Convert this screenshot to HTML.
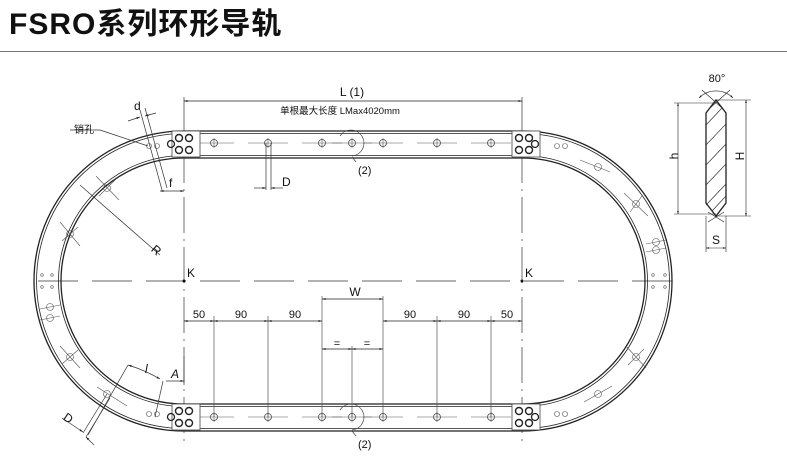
<!DOCTYPE html>
<html><head><meta charset="utf-8"><style>
html,body{margin:0;padding:0;background:#fff;width:787px;height:463px;overflow:hidden}
svg{display:block}
text{font-family:"Liberation Sans","Noto Sans CJK SC",sans-serif;fill:#111}
</style></head><body>
<svg width="787" height="463" viewBox="0 0 787 463" xmlns="http://www.w3.org/2000/svg">
<defs>
<marker id="a" viewBox="0 0 10 10" refX="10" refY="5" markerWidth="6" markerHeight="5" orient="auto-start-reverse"><path d="M0,2L10,5L0,8z" fill="#222"/></marker>
<g id="hole"><circle r="3.5" fill="none" stroke="#444" stroke-width="0.8"/><line x1="-20" x2="20" y1="0" y2="0" stroke="#555" stroke-width="0.6"/><line x1="0" x2="0" y1="-5" y2="5" stroke="#555" stroke-width="0.6"/></g>
<g id="blk"><rect x="0" y="0" width="28" height="26" fill="#fff" stroke="#444" stroke-width="0.8"/>
<circle cx="7" cy="7" r="3.5" fill="none" stroke="#222" stroke-width="1.4"/><circle cx="17" cy="7" r="3.5" fill="none" stroke="#222" stroke-width="1.4"/>
<circle cx="7" cy="19" r="3.5" fill="none" stroke="#222" stroke-width="1.4"/><circle cx="17" cy="19" r="3.5" fill="none" stroke="#222" stroke-width="1.4"/></g>
</defs>
<text x="9" y="34" font-size="30" font-weight="bold" letter-spacing="1" style="font-family:'Liberation Sans','Noto Sans CJK SC',sans-serif">FSRO系列环形导轨</text>
<line x1="0" y1="51.5" x2="787" y2="51.5" stroke="#777" stroke-width="1"/>

<g stroke="#333" stroke-width="0.7" stroke-dasharray="36,6,2,6" fill="none">
<line x1="184" y1="97" x2="184" y2="445"/><line x1="522" y1="97" x2="522" y2="445"/>
<line x1="38" y1="281" x2="680" y2="281" stroke-dasharray="40,14"/>
</g>
<circle cx="184" cy="281" r="1.5" fill="#111"/><circle cx="522" cy="281" r="1.5" fill="#111"/>
<text x="187" y="277" font-size="12">K</text><text x="525" y="277" font-size="12">K</text>

<g fill="none" stroke="#222">
<path d="M184,131 H522 A150,150 0 0 1 522,431 H184 A150,150 0 0 1 184,131Z" stroke-width="1.3"/>
<path d="M184,133.5 H522 A147.5,147.5 0 0 1 522,428.5 H184 A147.5,147.5 0 0 1 184,133.5Z" stroke-width="0.8"/>
<path d="M184,158 H522 A123,123 0 0 1 522,404 H184 A123,123 0 0 1 184,158Z" stroke-width="1.3"/>
<path d="M184,155.5 H522 A125.5,125.5 0 0 1 522,406.5 H184 A125.5,125.5 0 0 1 184,155.5Z" stroke-width="0.8"/>
</g>
<g>
<use href="#hole" x="214" y="143"/><use href="#hole" x="268" y="143"/><use href="#hole" x="322" y="143"/><use href="#hole" x="352" y="143"/><use href="#hole" x="383" y="143"/><use href="#hole" x="437" y="143"/><use href="#hole" x="491" y="143"/>
<use href="#hole" x="214" y="417"/><use href="#hole" x="268" y="417"/><use href="#hole" x="322" y="417"/><use href="#hole" x="352" y="417"/><use href="#hole" x="383" y="417"/><use href="#hole" x="437" y="417"/><use href="#hole" x="491" y="417"/>
</g>
<g fill="none" stroke="#555" stroke-width="0.6">
<circle cx="107" cy="188" r="3.5"/><line x1="96" y1="176" x2="119" y2="200"/><line x1="99" y1="196" x2="115" y2="180"/>
<circle cx="70" cy="234" r="3.5"/><line x1="60" y1="222" x2="80" y2="246"/><line x1="62" y1="241" x2="78" y2="227"/>
<circle cx="50" cy="307" r="3.5"/><line x1="40" y1="309" x2="60" y2="305"/>
<circle cx="50" cy="318" r="3.5"/><line x1="40" y1="320" x2="60" y2="316"/>
<circle cx="70" cy="357" r="3.5"/><line x1="60" y1="346" x2="80" y2="368"/><line x1="62" y1="364" x2="78" y2="350"/>
<circle cx="107" cy="394" r="3.5"/><line x1="97" y1="387" x2="127" y2="406"/>
<circle cx="149" cy="414" r="2.5"/><circle cx="157" cy="414" r="2.5"/>
<circle cx="149" cy="146" r="2.5"/><circle cx="157" cy="146" r="2.5"/>
<circle cx="557" cy="146" r="2.5"/><circle cx="565" cy="146" r="2.5"/>
<circle cx="598" cy="167" r="3.5"/><line x1="580" y1="160" x2="610" y2="172"/>
<circle cx="636" cy="204" r="3.5"/><line x1="624" y1="193" x2="648" y2="216"/><line x1="630" y1="212" x2="642" y2="196"/>
<circle cx="656" cy="242" r="3.5"/><line x1="646" y1="244" x2="666" y2="240"/>
<circle cx="656" cy="250" r="3.5"/><line x1="646" y1="252" x2="666" y2="248"/>
<circle cx="636" cy="357" r="3.5"/><line x1="626" y1="346" x2="646" y2="368"/><line x1="628" y1="365" x2="644" y2="349"/>
<circle cx="598" cy="394" r="3.5"/><line x1="584" y1="402" x2="612" y2="386"/>
<circle cx="557" cy="414" r="2.5"/><circle cx="565" cy="414" r="2.5"/>
<circle cx="42" cy="275" r="1.3"/><circle cx="52" cy="275" r="1.3"/><circle cx="42" cy="287" r="1.3"/><circle cx="52" cy="287" r="1.3"/>
<circle cx="653" cy="275" r="1.3"/><circle cx="665" cy="275" r="1.3"/><circle cx="653" cy="287" r="1.3"/><circle cx="665" cy="287" r="1.3"/>
</g>
<use href="#blk" x="172" y="131"/><use href="#blk" x="512" y="131"/>
<use href="#blk" x="172" y="404"/><use href="#blk" x="512" y="404"/>
<g fill="none" stroke="#222" stroke-width="1.3"><circle cx="171" cy="144" r="3.5"/><circle cx="535" cy="144" r="3.5"/><circle cx="171" cy="417" r="3.5"/><circle cx="535" cy="417" r="3.5"/></g>
<g fill="none" stroke="#444" stroke-width="0.7">
<path d="M340,136 A13,13 0 1 1 352,156"/><path d="M340,410 A13,13 0 1 1 352,430"/>
<line x1="352" y1="157" x2="356" y2="162"/><line x1="352" y1="431" x2="356" y2="436"/>
</g>
<text x="358" y="174" font-size="11">(2)</text><text x="358" y="448" font-size="11">(2)</text>

<line x1="184" y1="101" x2="522" y2="101" stroke="#222" stroke-width="0.7" marker-start="url(#a)" marker-end="url(#a)"/>
<text x="352" y="96" font-size="12" text-anchor="middle">L (1)</text>
<text x="340" y="114" font-size="9.5" text-anchor="middle" fill="#333">单根最大长度 LMax4020mm</text>

<g stroke="#333" stroke-width="0.7">
<line x1="266" y1="143" x2="266" y2="190"/><line x1="271" y1="143" x2="271" y2="190"/>
<line x1="254" y1="188" x2="266" y2="188" marker-end="url(#a)"/><line x1="283" y1="188" x2="271" y2="188" marker-end="url(#a)"/>
</g>
<text x="282" y="186" font-size="12">D</text>

<g stroke="#333" stroke-width="0.7" fill="none">
<line x1="140" y1="110" x2="162" y2="190"/><line x1="145" y1="108" x2="167" y2="188"/>
<line x1="128" y1="121" x2="140" y2="117" marker-end="url(#a)"/><line x1="156" y1="113" x2="145" y2="116" marker-end="url(#a)"/>
<line x1="160" y1="191" x2="184" y2="191" marker-start="url(#a)" marker-end="url(#a)"/>
<line x1="70" y1="130" x2="100" y2="130"/><line x1="100" y1="130" x2="148" y2="146"/>
<line x1="80" y1="185" x2="160" y2="255"/>
</g>
<text x="134" y="110" font-size="12">d</text>
<text x="169" y="187" font-size="12">f</text>
<text x="74" y="133" font-size="10">销孔</text>
<text x="152" y="254" font-size="12" transform="rotate(41 156 250)">R</text>

<g stroke="#333" stroke-width="0.7" fill="none">
<line x1="128" y1="365" x2="88" y2="435"/><line x1="107" y1="394" x2="83" y2="433"/><line x1="110" y1="398" x2="86" y2="437"/>
<line x1="163" y1="381" x2="155" y2="417"/>
<path d="M128,365 A150,150 0 0 1 160,379" marker-start="url(#a)" marker-end="url(#a)"/>
<line x1="166" y1="381" x2="184" y2="381" marker-end="url(#a)"/>
<line x1="184" y1="356" x2="184" y2="385"/>
<line x1="62" y1="418" x2="83" y2="432" marker-end="url(#a)"/><line x1="94" y1="445" x2="86" y2="437" marker-end="url(#a)"/>
</g>
<text x="145" y="373" font-size="12" font-style="italic">l</text>
<text x="171" y="378" font-size="12" font-style="italic">A</text>
<text x="64" y="422" font-size="12" transform="rotate(35 68 418)">D</text>

<g stroke="#555" stroke-width="0.7">
<line x1="214" y1="316" x2="214" y2="417"/><line x1="268" y1="316" x2="268" y2="417"/><line x1="322" y1="296" x2="322" y2="417"/><line x1="352" y1="346" x2="352" y2="417"/><line x1="383" y1="296" x2="383" y2="417"/><line x1="437" y1="316" x2="437" y2="417"/><line x1="491" y1="316" x2="491" y2="417"/>
</g>
<g stroke="#222" stroke-width="0.7">
<line x1="184" y1="321" x2="214" y2="321" marker-start="url(#a)" marker-end="url(#a)"/>
<line x1="214" y1="321" x2="268" y2="321" marker-start="url(#a)" marker-end="url(#a)"/>
<line x1="268" y1="321" x2="322" y2="321" marker-start="url(#a)" marker-end="url(#a)"/>
<line x1="383" y1="321" x2="437" y2="321" marker-start="url(#a)" marker-end="url(#a)"/>
<line x1="437" y1="321" x2="491" y2="321" marker-start="url(#a)" marker-end="url(#a)"/>
<line x1="491" y1="321" x2="522" y2="321" marker-start="url(#a)" marker-end="url(#a)"/>
<line x1="322" y1="299" x2="383" y2="299" marker-start="url(#a)" marker-end="url(#a)"/>
<line x1="322" y1="349" x2="352" y2="349" marker-start="url(#a)" marker-end="url(#a)"/>
<line x1="352" y1="349" x2="383" y2="349" marker-start="url(#a)" marker-end="url(#a)"/>
</g>
<g font-size="11" text-anchor="middle">
<text x="199" y="318">50</text><text x="241" y="318">90</text><text x="295" y="318">90</text>
<text x="410" y="318">90</text><text x="464" y="318">90</text><text x="507" y="318">50</text>
<text x="355" y="296" font-size="12">W</text><text x="337" y="347">=</text><text x="367" y="347">=</text>
</g>

<g stroke="#222" fill="none">
<path d="M716,100 L726,113 L726,203 L716,216 L706,203 L706,113Z" stroke-width="1.3"/>
<g stroke-width="0.6"><line x1="706" y1="125" x2="722" y2="108"/><line x1="706" y1="145" x2="726" y2="124"/><line x1="706" y1="165" x2="726" y2="144"/><line x1="706" y1="185" x2="726" y2="164"/><line x1="706" y1="205" x2="726" y2="184"/><line x1="712" y1="211" x2="726" y2="196"/></g>
<g stroke-width="0.6">
<line x1="674" y1="103" x2="716" y2="103"/><line x1="674" y1="214" x2="716" y2="214"/>
<line x1="678" y1="103" x2="678" y2="214" marker-start="url(#a)" marker-end="url(#a)"/>
<line x1="716" y1="100" x2="751" y2="100"/><line x1="716" y1="216" x2="751" y2="216"/>
<line x1="746" y1="100" x2="746" y2="216" marker-start="url(#a)" marker-end="url(#a)"/>
<line x1="706" y1="216" x2="706" y2="252"/><line x1="726" y1="216" x2="726" y2="252"/>
<line x1="706" y1="248" x2="726" y2="248" marker-start="url(#a)" marker-end="url(#a)"/>
<line x1="708" y1="212" x2="724" y2="222"/><line x1="724" y1="212" x2="708" y2="222"/>
<line x1="702" y1="90" x2="722" y2="108"/><line x1="730" y1="90" x2="710" y2="108"/>
<path d="M699,98 A24,24 0 0 1 733,98" marker-start="url(#a)" marker-end="url(#a)"/>
</g>
</g>
<text x="717" y="82" font-size="11" text-anchor="middle">80°</text>
<text x="678" y="160" font-size="12" transform="rotate(-90 676 158)" text-anchor="middle">h</text>
<text x="744" y="160" font-size="12" transform="rotate(-90 742 158)" text-anchor="middle">H</text>
<text x="716" y="244" font-size="12" text-anchor="middle">S</text>
</svg>
</body></html>
